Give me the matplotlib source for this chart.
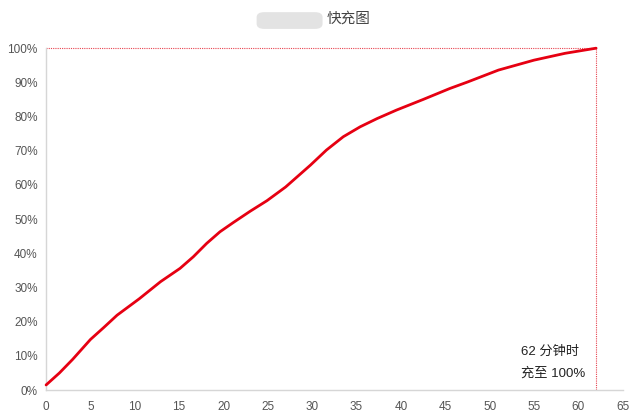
import matplotlib
matplotlib.use('Agg')
import matplotlib.pyplot as plt
from matplotlib.patches import FancyBboxPatch

plt.rcParams['font.family'] = ['Liberation Sans', 'Noto Sans CJK SC', 'DejaVu Sans']

# charge curve (minutes, percent)
minutes = [0, 1.5, 3, 5, 6.5, 8, 10.5, 12.9, 15.1, 16.6, 18.1, 19.6, 21.1,
           23, 24.9, 27, 29.8, 31.6, 33.5, 35.4, 37.3, 39.5, 42.5, 45.5,
           47.5, 51, 55, 58.5, 62]
percent = [1.5, 5, 9, 14.8, 18.3, 21.9, 26.7, 31.7, 35.6, 39, 42.9, 46.3,
           49.0, 52.3, 55.4, 59.4, 65.8, 70.2, 74.1, 77.0, 79.4, 81.9, 85,
           88.2, 90.1, 93.6, 96.5, 98.5, 100]

full_minute = 62
x_ticks = list(range(0, 66, 5))
y_ticks = list(range(0, 101, 10))
title = '快充图'
note = '62 分钟时\n充至 100%'

fig = plt.figure(figsize=(6.4, 4.19), dpi=100)
ax = fig.add_axes([0.072, 0.069, 0.901, 0.816])

ax.plot(minutes, percent, color='#e60012', linewidth=2.0, zorder=3,
        solid_capstyle='round', solid_joinstyle='round', clip_on=False)

# dotted guide lines to the full point
ax.plot([0, full_minute], [100, 100], color='#e8434f', linestyle=(0, (1, 1)),
        linewidth=0.8, clip_on=False, zorder=2)
ax.plot([full_minute, full_minute], [0, 100], color='#e8434f',
        linestyle=(0, (1, 1)), linewidth=0.8, clip_on=False, zorder=2)

ax.set_xlim(0, 65)
ax.set_ylim(0, 100)
ax.set_xticks(x_ticks)
ax.set_yticks(y_ticks)
ax.set_yticklabels([f'{v}%' for v in y_ticks])
ax.tick_params(length=0, labelsize=8.5, labelcolor='#555555')
ax.tick_params(axis='x', pad=8)
ax.tick_params(axis='y', pad=6)

for side in ['top', 'right']:
    ax.spines[side].set_visible(False)
for side in ['left', 'bottom']:
    ax.spines[side].set_color('#d6d6d6')
    ax.spines[side].set_linewidth(1.0)

ax.text(53.5, 8, note, fontsize=9.5, color='#222222', ha='left', va='center',
        linespacing=2.0)

# blurred part of the title, drawn as a soft grey block
fig.patches.append(FancyBboxPatch((0.405, 0.935), 0.095, 0.032,
                                  boxstyle='round,pad=0.004,rounding_size=0.012',
                                  transform=fig.transFigure, facecolor='#dcdcdc',
                                  edgecolor='none', alpha=0.8))
fig.text(0.545, 0.955, title, fontsize=10.5, color='#444444', ha='center',
         va='center')

fig.savefig('out.png', dpi=100)
